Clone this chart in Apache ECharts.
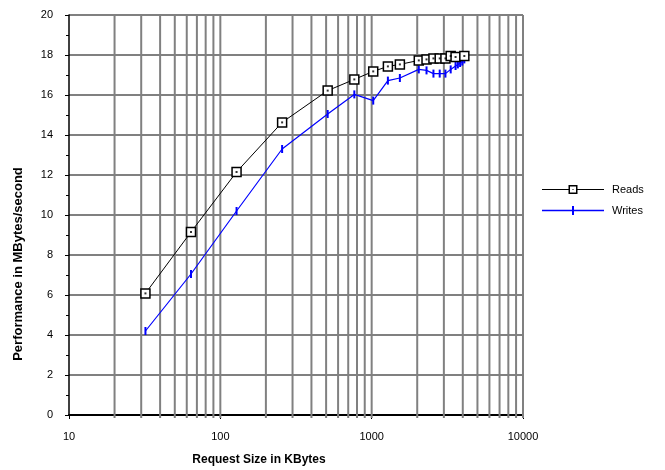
<!DOCTYPE html>
<html>
<head>
<meta charset="utf-8">
<script src="https://cdn.jsdelivr.net/npm/echarts@6/dist/echarts.min.js"></script>
<style>
  html, body { margin: 0; padding: 0; background: #fff; }
  #chart { width: 665px; height: 470px; }
</style>
</head>
<body>
<div id="chart"></div>
<script>
// Request sizes (KBytes) and throughput (MBytes/second)
const readSizes  = [32, 64, 128, 256, 512, 768, 1024, 1280, 1536, 2048, 2304, 2560, 2816, 3072, 3328, 3584, 4096];
const readRates  = [6.08, 9.15, 12.15, 14.63, 16.22, 16.78, 17.18, 17.43, 17.53, 17.73, 17.78, 17.83, 17.83, 17.83, 17.95, 17.9, 17.95];

const writeSizes = [32, 64, 128, 256, 512, 768, 1024, 1280, 1536, 2048, 2304, 2560, 2816, 3072, 3328, 3584, 3712, 3840, 3968, 4096];
const writeRates = [4.2, 7.05, 10.2, 13.3, 15.05, 16.03, 15.72, 16.72, 16.85, 17.28, 17.23, 17.07, 17.07, 17.07, 17.28, 17.45, 17.53, 17.6, 17.67, 17.78];

// Log-axis gridline positions (every 1..9 step in each decade)
const gridSizes = [20, 30, 40, 50, 60, 70, 80, 90,
                   100, 200, 300, 400, 500, 600, 700, 800, 900,
                   1000, 2000, 3000, 4000, 5000, 6000, 7000, 8000, 9000, 10000];

const xTitle = 'Request Size in KBytes';
const yTitle = 'Performance in MBytes/second';

const FONT = '"Liberation Sans", Arial, sans-serif';
const pairs = (xs, ys) => xs.map((x, i) => [x, ys[i]]);

// Legend glyphs: line with an open square (reads), line with a vertical tick (writes)
const readsIcon = 'path://M0,4H26.5V5.1H0Z M26.5,0H35.5V9H26.5Z M28,1.5V7.5H34V1.5Z M30.5,4H31.5V5H30.5Z M35.5,4H62V5.1H35.5Z';
const writesIcon = 'path://M0,3.8H62V5.2H0Z M30,0H32V9H30Z';

const chart = echarts.init(document.getElementById('chart'));
chart.setOption({
  animation: false,
  backgroundColor: '#fff',
  textStyle: { fontFamily: FONT },
  grid: { left: 69, right: 142, top: 15, bottom: 55 },
  xAxis: {
    type: 'log',
    logBase: 10,
    min: 10,
    max: 10000,
    axisLine: { show: true, onZero: false, lineStyle: { color: '#000', width: 2 } },
    axisTick: { show: true, length: 4, lineStyle: { color: '#000', width: 1 } },
    axisLabel: { color: '#000', fontSize: 11, fontFamily: FONT, margin: 16,
                 formatter: v => String(Math.round(v)) },
    splitLine: { show: false },
    minorTick: { show: false },
    minorSplitLine: { show: false }
  },
  yAxis: {
    type: 'value',
    min: 0,
    max: 20,
    interval: 2,
    axisLine: { show: true, lineStyle: { color: '#000', width: 1.5 } },
    axisTick: { show: true, length: 4, lineStyle: { color: '#000', width: 1 } },
    minorTick: { show: true, splitNumber: 2, length: 3, lineStyle: { color: '#000', width: 1 } },
    axisLabel: { color: '#000', fontSize: 11, fontFamily: FONT, margin: 16 },
    splitLine: { show: true, lineStyle: { color: '#808080', width: 2 } }
  },
  legend: {
    orient: 'vertical',
    left: 542,
    top: 184,
    padding: 0,
    itemWidth: 62,
    itemHeight: 9,
    itemGap: 10,
    data: [
      { name: 'Reads', icon: readsIcon, itemStyle: { color: '#000', borderWidth: 0 } },
      { name: 'Writes', icon: writesIcon, itemStyle: { color: '#0000ff', borderWidth: 0 } }
    ],
    textStyle: { color: '#000', fontSize: 11, fontFamily: FONT, padding: [0, 0, 0, 3] }
  },
  graphic: [
    { type: 'text', x: 18, y: 264, rotation: Math.PI / 2,
      style: { text: yTitle, fill: '#000', font: 'bold 13px ' + FONT,
               textAlign: 'center', textVerticalAlign: 'middle' } },
    { type: 'text', x: 259, y: 460,
      style: { text: xTitle, fill: '#000', font: 'bold 12px ' + FONT,
               textAlign: 'center', textVerticalAlign: 'middle' } }
  ],
  series: [
    {
      name: 'grid',
      type: 'custom',
      silent: true,
      z: 1,
      data: gridSizes.map(v => [v, 0]),
      encode: { x: 0, y: 1 },
      renderItem: function (params, api) {
        const x = api.coord([api.value(0), 0])[0];
        const cs = params.coordSys;
        return {
          type: 'line',
          shape: { x1: x, y1: cs.y, x2: x, y2: cs.y + cs.height + 3 },
          style: { stroke: '#808080', lineWidth: 2 }
        };
      }
    },
    {
      name: 'Reads',
      type: 'line',
      z: 4,
      data: pairs(readSizes, readRates),
      symbol: 'rect',
      symbolSize: 9,
      showAllSymbol: true,
      lineStyle: { color: '#000', width: 1 },
      itemStyle: { color: '#fff', borderColor: '#000', borderWidth: 1.5 },
      emphasis: { disabled: true }
    },
    {
      name: 'Reads',
      type: 'scatter',
      z: 5,
      silent: true,
      data: pairs(readSizes, readRates),
      symbol: 'rect',
      symbolSize: 2,
      itemStyle: { color: '#000' }
    },
    {
      name: 'Writes',
      type: 'line',
      z: 3,
      data: pairs(writeSizes, writeRates),
      symbol: 'path://M0,0H1V8H0Z',
      symbolSize: [2, 8],
      showAllSymbol: true,
      lineStyle: { color: '#0000ff', width: 1.2 },
      itemStyle: { color: '#0000ff' },
      emphasis: { disabled: true }
    }
  ]
});
</script>
</body>
</html>
